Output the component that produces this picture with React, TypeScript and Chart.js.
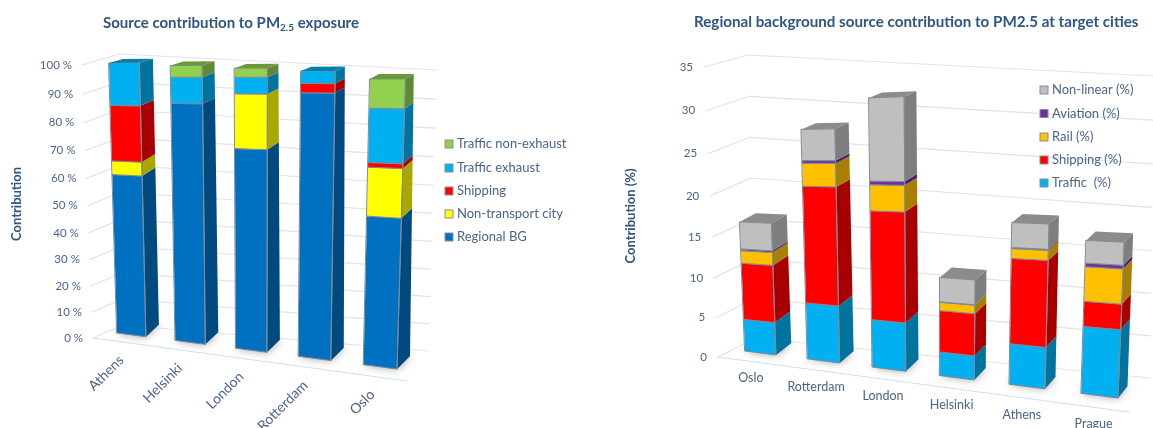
import React, { useEffect, useRef } from "react";
import { Chart, registerables } from "chart.js";

Chart.register(...registerables);

// Source contribution to PM2.5 exposure (percent)
const exposureCities = ["Athens", "Helsinki", "London", "Rotterdam", "Oslo"];
const regionalBG = [60, 86, 71, 90, 50.5];
const nonTransportCity = [5, 0, 18.5, 0, 16];
const exposureShipping = [20, 0, 0, 3, 1.5];
const trafficExhaust = [15, 9, 5.5, 4, 17.3];
const trafficNonExhaust = [0, 4, 3, 0, 9.2];

// Regional background source contribution at target cities (percent)
const targetCities = ["Oslo", "Rotterdam", "London", "Helsinki", "Athens", "Prague"];
const traffic = [3.9, 6.6, 5.4, 2.6, 4.3, 6.8];
const shipping = [6.8, 13.3, 12, 4.5, 8.8, 2.5];
const rail = [1.5, 2.55, 2.8, 0.9, 1, 3.4];
const aviation = [0.2, 0.3, 0.4, 0.05, 0.1, 0.35];
const nonLinear = [3.2, 3.4, 8.7, 2.6, 2.5, 2.2];

type Pt = [number, number];
type Quad = { u: [number, number]; p00: Pt; p10: Pt; p11: Pt; p01: Pt; warp?: number };
type Mapper = (u: number, v: number) => Pt;

// Projective map from the unit square onto a screen quadrilateral.
// The optional warp eases the horizontal foreshortening of the plane.
function planeMapper(q: Quad): Mapper {
  const [x0, y0] = q.p00, [x1, y1] = q.p10, [x2, y2] = q.p11, [x3, y3] = q.p01;
  const dx1 = x1 - x2, dx2 = x3 - x2, sx = x0 - x1 + x2 - x3;
  const dy1 = y1 - y2, dy2 = y3 - y2, sy = y0 - y1 + y2 - y3;
  const den = dx1 * dy2 - dx2 * dy1;
  const g = (sx * dy2 - dx2 * sy) / den;
  const h = (dx1 * sy - sx * dy1) / den;
  const a = x1 - x0 + g * x1, b = x3 - x0 + h * x3;
  const d = y1 - y0 + g * y1, e = y3 - y0 + h * y3;
  const k = q.warp ?? 0;
  return (u, v) => {
    const r = (u - q.u[0]) / (q.u[1] - q.u[0]);
    const s = r + k * r * (1 - r);
    const w = g * s + h * v + 1;
    return [(a * s + b * v + x0) / w, (d * s + e * v + y0) / w];
  };
}

function shade(hex: string, k: number) {
  const n = parseInt(hex.slice(1), 16);
  const c = [(n >> 16) & 255, (n >> 8) & 255, n & 255].map((x) => Math.round(x * k));
  return `rgb(${c[0]},${c[1]},${c[2]})`;
}

function fillPoly(ctx: CanvasRenderingContext2D, pts: Pt[], fill: string, edge?: string) {
  ctx.beginPath();
  pts.forEach((p, i) => (i ? ctx.lineTo(p[0], p[1]) : ctx.moveTo(p[0], p[1])));
  ctx.closePath();
  ctx.fillStyle = fill;
  ctx.fill();
  if (edge) {
    ctx.strokeStyle = edge;
    ctx.lineWidth = 1;
    ctx.stroke();
  }
}

type View = {
  wallFront: Quad;
  wallBack: Quad;
  barFront: Quad;
  barBack: Quad;
  title: (ctx: CanvasRenderingContext2D) => void;
  axisTitle: { text: string; x: number; y: number };
  tickFont: string;
  tickOffset: number;
  catFont: string;
  catRotated: boolean;
  catOffset: Pt;
  legend: { x: number; ys: number[]; size: number; font: string };
};

const TEXT = "#4A648F";
const TITLE = "#2F5583";
const GRID = "#E3E3E3";
const FLOOR = "#CFE0F3";
const EDGE = "#7E8A96";

function view3d(v: View) {
  const wf = planeMapper(v.wallFront), wb = planeMapper(v.wallBack);
  const bf = planeMapper(v.barFront), bb = planeMapper(v.barBack);
  return {
    id: "view3d",
    beforeDatasetsDraw(chart: any) {
      const { ctx, chartArea: area, scales } = chart;
      const xs = scales.x, ys = scales.y;
      const U = (px: number) => (px - area.left) / (area.right - area.left);
      const V = (py: number) => (area.bottom - py) / (area.bottom - area.top);
      ctx.save();
      ctx.lineCap = "round";

      // walls and value ticks
      ctx.lineWidth = 1.2;
      ctx.strokeStyle = GRID;
      ys.ticks.forEach((t: any, i: number) => {
        const val = V(ys.getPixelForTick(i));
        const a = wf(0, val), b = wb(0, val), c = wb(1, val);
        ctx.beginPath();
        ctx.moveTo(a[0], a[1]);
        ctx.lineTo(b[0], b[1]);
        ctx.lineTo(c[0], c[1]);
        ctx.stroke();
        ctx.fillStyle = TEXT;
        ctx.font = v.tickFont;
        ctx.textAlign = "right";
        ctx.textBaseline = "middle";
        ctx.fillText(t.label, a[0] - v.tickOffset, a[1]);
      });

      // floor edge
      const f0 = wf(0, 0), f1 = wf(1, 0);
      ctx.strokeStyle = FLOOR;
      ctx.beginPath();
      ctx.moveTo(f0[0], f0[1]);
      ctx.lineTo(f1[0], f1[1]);
      ctx.stroke();

      // category labels
      xs.ticks.forEach((t: any, i: number) => {
        const p = wf(U(xs.getPixelForTick(i)), 0);
        const x = p[0] + v.catOffset[0], y = p[1] + v.catOffset[1];
        ctx.fillStyle = TEXT;
        ctx.font = v.catFont;
        ctx.save();
        ctx.translate(x, y);
        if (v.catRotated) {
          ctx.rotate(-Math.PI / 4);
          ctx.textAlign = "right";
        } else {
          ctx.textAlign = "center";
        }
        ctx.textBaseline = "middle";
        ctx.fillText(t.label, 0, 0);
        ctx.restore();
      });

      const metas = chart.data.datasets.map((_: any, i: number) => chart.getDatasetMeta(i));

      // soft contact shadows under each column
      xs.ticks.forEach((_: any, j: number) => {
        const el = metas[0].data[j];
        const u0 = U(el.x - el.width / 2), u1 = U(el.x + el.width / 2);
        ctx.save();
        ctx.shadowColor = "rgba(0,0,0,0.6)";
        ctx.shadowBlur = 8;
        fillPoly(ctx, [bf(u0, 0), bf(u1, 0), bb(u1, 0), bb(u0, 0)], "rgba(60,60,60,0.65)");
        ctx.restore();
      });

      // stacked columns, each a right face, a front face and one lid
      xs.ticks.forEach((_: any, j: number) => {
        let last: any = null;
        metas.forEach((m: any, i: number) => {
          const val = chart.data.datasets[i].data[j];
          if (!val) return;
          const el = m.data[j];
          const color = chart.data.datasets[i].backgroundColor;
          const u0 = U(el.x - el.width / 2), u1 = U(el.x + el.width / 2);
          const lo = V(el.base), hi = V(el.y);
          fillPoly(ctx, [bf(u1, lo), bb(u1, lo), bb(u1, hi), bf(u1, hi)], shade(color, 0.66));
          fillPoly(ctx, [bf(u0, lo), bf(u1, lo), bf(u1, hi), bf(u0, hi)], color, EDGE);
          last = { u0, u1, hi, color };
        });
        if (last) {
          const { u0, u1, hi, color } = last;
          fillPoly(ctx, [bf(u0, hi), bf(u1, hi), bb(u1, hi), bb(u0, hi)], shade(color, 0.73));
          const c = bf(u1, 0), d = bf(u1, hi);
          ctx.strokeStyle = EDGE;
          ctx.lineWidth = 1;
          ctx.beginPath();
          ctx.moveTo(c[0], c[1]);
          ctx.lineTo(d[0], d[1]);
          ctx.stroke();
        }
      });

      // legend, last series first
      const ds = chart.data.datasets;
      ctx.textAlign = "left";
      ctx.textBaseline = "middle";
      ds.slice().reverse().forEach((d: any, i: number) => {
        const y = v.legend.ys[i];
        const s = v.legend.size;
        ctx.fillStyle = d.backgroundColor;
        ctx.strokeStyle = "#8A8F96";
        ctx.lineWidth = 1;
        ctx.fillRect(v.legend.x, y - s / 2, s, s);
        ctx.strokeRect(v.legend.x, y - s / 2, s, s);
        ctx.fillStyle = TEXT;
        ctx.font = v.legend.font;
        ctx.fillText(d.label, v.legend.x + s + 4, y);
      });

      // headings
      v.title(ctx);
      ctx.save();
      ctx.translate(v.axisTitle.x, v.axisTitle.y);
      ctx.rotate(-Math.PI / 2);
      ctx.textAlign = "center";
      ctx.textBaseline = "middle";
      ctx.fillStyle = TITLE;
      ctx.font = "bold 13px Lato";
      ctx.fillText(v.axisTitle.text, 0, 0);
      ctx.restore();

      ctx.restore();
      return false;
    },
  };
}

const exposureView: View = {
  wallFront: { u: [0, 1], p00: [93, 338], p10: [407, 381], p11: [418, 60], p01: [82, 65], warp: 0.05 },
  wallBack: { u: [0, 1], p00: [123, 325], p10: [428, 351], p11: [437, 70], p01: [119, 54] },
  barFront: { u: [0.05, 0.95], p00: [117, 333], p10: [397, 369], p11: [406, 61], p01: [109, 63], warp: 0.05 },
  barBack: { u: [0.05, 0.95], p00: [130, 321], p10: [410, 356], p11: [414, 57], p01: [123, 59], warp: 0.05 },
  title(ctx) {
    ctx.fillStyle = TITLE;
    ctx.textAlign = "left";
    ctx.textBaseline = "middle";
    ctx.font = "bold 15px Lato";
    let x = 103;
    const head = "Source contribution to PM";
    ctx.fillText(head, x, 23);
    x += ctx.measureText(head).width;
    ctx.font = "bold 10px Lato";
    ctx.fillText("2.5", x, 28);
    x += ctx.measureText("2.5").width;
    ctx.font = "bold 15px Lato";
    ctx.fillText(" exposure", x, 23);
  },
  axisTitle: { text: "Contribution", x: 17, y: 204 },
  tickFont: "11.5px Lato",
  tickOffset: 10,
  catFont: "14px Lato",
  catRotated: true,
  catOffset: [0, 16],
  legend: { x: 445, ys: [144, 168, 191, 214, 237], size: 8, font: "13px Lato" },
};

const targetView: View = {
  wallFront: { u: [0, 1], p00: [118, 357], p10: [529, 412], p11: [545, 60], p01: [104, 67], warp: 0.12 },
  wallBack: { u: [0, 1], p00: [155, 338], p10: [550, 378], p11: [553, 76], p01: [148, 55] },
  barFront: { u: [0.0417, 0.9583], p00: [145, 351], p10: [518, 398], p11: [533, 24], p01: [133, 51], warp: 0.12 },
  barBack: { u: [0.0417, 0.9583], p00: [161, 339], p10: [527.5, 386], p11: [541, 20], p01: [149, 47], warp: 0.12 },
  title(ctx) {
    ctx.fillStyle = TITLE;
    ctx.textAlign = "left";
    ctx.textBaseline = "middle";
    ctx.font = "bold 15.2px Lato";
    ctx.fillText("Regional background source contribution to PM2.5 at target cities", 94, 22);
  },
  axisTitle: { text: "Contribution (%)", x: 31, y: 216 },
  tickFont: "11.5px Lato",
  tickOffset: 11,
  catFont: "12.5px Lato",
  catRotated: false,
  catOffset: [1, 17],
  legend: { x: 440, ys: [90, 113.5, 137, 160, 183], size: 8, font: "13px Lato" },
};

function Panel({ labels, series, max, step, unit, view, width }: any) {
  const ref = useRef<HTMLCanvasElement>(null);
  useEffect(() => {
    const chart = new Chart(ref.current as HTMLCanvasElement, {
      type: "bar",
      data: {
        labels,
        datasets: series.map((s: any) => ({
          label: s.label,
          data: s.data,
          backgroundColor: s.color,
          barPercentage: 0.5,
          categoryPercentage: 1,
        })),
      },
      options: {
        responsive: false,
        animation: false,
        layout: { padding: 20 },
        plugins: { legend: { display: false }, title: { display: false }, tooltip: { enabled: false } },
        scales: {
          x: { stacked: true, display: false },
          y: {
            stacked: true,
            display: false,
            min: 0,
            max,
            ticks: { stepSize: step, callback: (val: any) => `${val}${unit}` },
          },
        },
      },
      plugins: [view3d(view)],
    } as any);
    return () => chart.destroy();
  }, []);
  return <canvas ref={ref} width={width} height={428} style={{ display: "block" }} />;
}

export default function App() {
  return (
    <div style={{ position: "absolute", left: 0, top: 0, display: "flex", width: 1153, height: 428, background: "#fff" }}>
      <Panel
        width={600}
        labels={exposureCities}
        max={100}
        step={10}
        unit=" %"
        view={exposureView}
        series={[
          { label: "Regional BG", data: regionalBG, color: "#0070C0" },
          { label: "Non-transport city", data: nonTransportCity, color: "#FFFF00" },
          { label: "Shipping", data: exposureShipping, color: "#FF0000" },
          { label: "Traffic exhaust", data: trafficExhaust, color: "#00B0F0" },
          { label: "Traffic non-exhaust", data: trafficNonExhaust, color: "#92D050" },
        ]}
      />
      <Panel
        width={553}
        labels={targetCities}
        max={35}
        step={5}
        unit=""
        view={targetView}
        series={[
          { label: "Traffic  (%)", data: traffic, color: "#00B0F0" },
          { label: "Shipping (%)", data: shipping, color: "#FF0000" },
          { label: "Rail (%)", data: rail, color: "#FFC000" },
          { label: "Aviation (%)", data: aviation, color: "#7030A0" },
          { label: "Non-linear (%)", data: nonLinear, color: "#BFBFBF" },
        ]}
      />
    </div>
  );
}
